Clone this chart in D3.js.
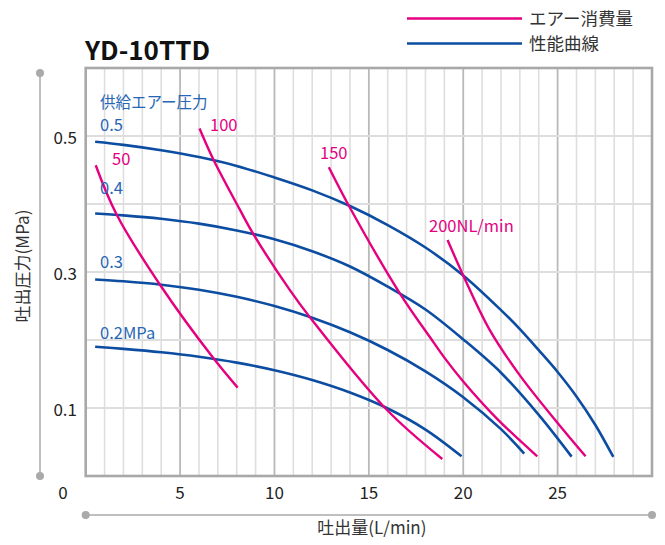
<!DOCTYPE html>
<html><head><meta charset="utf-8">
<script src="https://cdn.jsdelivr.net/npm/d3@7"></script>
<style>
body{margin:0;background:#fff;}
text{font-family:"Noto Sans CJK JP","Noto Sans",sans-serif;}
</style></head>
<body>
<svg id="c" width="665" height="545"></svg>
<script>
// ---- data ----
const xTicks = [5, 10, 15, 20, 25];
const yTicks = [0.1, 0.3, 0.5];
const pressureLevels = ["0.5", "0.4", "0.3", "0.2MPa"];
const airLevels = ["50", "100", "150", "200NL/min"];
// performance curves (flow L/min, discharge pressure MPa)
const perf05 = [[0.5,0.4915],[2,0.487],[4,0.479],[6,0.469],[8,0.456],[10,0.439],[12,0.420],[14,0.397],[16,0.369],[18,0.336],[20,0.295],[22,0.244],[23,0.216],[24,0.185],[25,0.153],[26,0.117],[27,0.075],[27.95,0.028]];
const perf04 = [[0.5,0.386],[2,0.3833],[4,0.3783],[6,0.3711],[8,0.3611],[10,0.3481],[12,0.3305],[14,0.3081],[16,0.2785],[18,0.2449],[20,0.2009],[22,0.1519],[24,0.0899],[25.74,0.0285]];
const perf03 = [[0.5,0.289],[2,0.2863],[4,0.2813],[6,0.2739],[8,0.2635],[10,0.2499],[12,0.2327],[14,0.2113],[16,0.1853],[18,0.1539],[20,0.1159],[22,0.0689],[23.23,0.033]];
const perf02 = [[0.5,0.190],[2,0.1869],[4,0.1819],[6,0.1753],[8,0.1667],[10,0.1555],[12,0.1411],[14,0.1227],[16,0.0993],[18,0.0683],[19.91,0.029]];
// air consumption curves
const air50  = [[0.53,0.457],[1.63,0.385],[3.99,0.279],[6.77,0.173],[8.05,0.130]];
const air100 = [[6.03,0.511],[6.77,0.465],[8.16,0.392],[8.9,0.355],[10.8,0.274],[11.86,0.234],[15.91,0.0985],[18.89,0.025]];
const air150 = [[12.88,0.454],[13.97,0.396],[16.7,0.266],[18.24,0.204],[19.03,0.173],[20,0.139],[21.77,0.0848],[23.92,0.029]];
const air200 = [[19.17,0.347],[20,0.295],[21.4,0.215],[23,0.148],[25,0.078],[26.48,0.029]];

const perfCurves = [perf05, perf04, perf03, perf02];
const airCurves = [air50, air100, air150, air200];

// ---- layout ----
const BLUE = "#0c4da2", PINK = "#e4007f", LBLUE = "#2766b4", GRID = "#dedede", DGRID = "#b9b9b9", FRAME = "#a8a8a8";
const svg = d3.select("#c");
const x = d3.scaleLinear([0, 30], [85.7, 652]);
const y = d3.scaleLinear([0, 0.6], [476, 68]);

// grid
const g = svg.append("g");
g.selectAll("line.v").data(d3.range(1, 30)).join("line")
  .attr("x1", d => x(d)).attr("x2", d => x(d)).attr("y1", y(0.6)).attr("y2", y(0))
  .attr("stroke", d => d % 5 === 0 ? DGRID : GRID).attr("stroke-width", d => d % 5 === 0 ? 1.8 : 1.6);
g.selectAll("line.h").data([0.1, 0.2, 0.3, 0.4, 0.5]).join("line")
  .attr("x1", x(0)).attr("x2", x(30)).attr("y1", d => y(d)).attr("y2", d => y(d))
  .attr("stroke", GRID).attr("stroke-width", 2);
// frame
svg.append("rect").attr("x", x(0)).attr("y", y(0.6)).attr("width", x(30) - x(0)).attr("height", y(0) - y(0.6))
  .attr("fill", "none").attr("stroke", FRAME).attr("stroke-width", 2.6);

// y ticks
svg.selectAll("text.yt").data(yTicks).join("text")
  .attr("x", 77).attr("y", d => y(d) + 2).attr("dy", "0.36em").attr("text-anchor", "end")
  .attr("font-size", 17).attr("fill", "#222").text(d => d.toString());
// x ticks
svg.selectAll("text.xt").data(xTicks).join("text")
  .attr("x", d => x(d)).attr("y", 493).attr("dy", "0.36em").attr("text-anchor", "middle")
  .attr("font-size", 17).attr("fill", "#222").text(d => d);
svg.append("text").attr("x", 63).attr("y", 493).attr("dy", "0.36em").attr("text-anchor", "middle")
  .attr("font-size", 17).attr("fill", "#222").text("0");

// axis decorations
const deco = svg.append("g").attr("fill", "#aaa").attr("stroke", "#aaa");
deco.append("line").attr("x1", 40).attr("x2", 40).attr("y1", 73).attr("y2", 476).attr("stroke-width", 1.5);
deco.append("circle").attr("cx", 40).attr("cy", 73).attr("r", 4).attr("stroke", "none");
deco.append("circle").attr("cx", 40).attr("cy", 476).attr("r", 4).attr("stroke", "none");
deco.append("line").attr("x1", x(0)).attr("x2", x(30)).attr("y1", 515).attr("y2", 515).attr("stroke-width", 1.5);
deco.append("circle").attr("cx", x(0)).attr("cy", 515).attr("r", 4).attr("stroke", "none");
deco.append("circle").attr("cx", x(30)).attr("cy", 515).attr("r", 4).attr("stroke", "none");

// axis titles
svg.append("text").attr("x", (x(0) + x(30)) / 2 + 3).attr("y", 528).attr("dy", "0.36em").attr("text-anchor", "middle")
  .attr("font-size", 17).attr("fill", "#333").text("吐出量(L/min)");
svg.append("text").attr("transform", "translate(23,266) rotate(-90)").attr("dy", "0.36em").attr("text-anchor", "middle")
  .attr("font-size", 17).attr("fill", "#333").text("吐出圧力(MPa)");

// title
svg.append("text").attr("x", 85).attr("y", 60).attr("font-size", 26).attr("font-weight", "bold")
  .attr("fill", "#111").attr("font-family", "'Liberation Sans',Arial,sans-serif").text("YD-10TTD");

// legend
const leg = [{c: PINK, t: "エアー消費量", yy: 18.5}, {c: BLUE, t: "性能曲線", yy: 43.5}];
leg.forEach(l => {
  svg.append("line").attr("x1", 407).attr("x2", 522).attr("y1", l.yy).attr("y2", l.yy).attr("stroke", l.c).attr("stroke-width", 2.5);
  svg.append("text").attr("x", 529).attr("y", l.yy).attr("dy", "0.36em").attr("font-size", 17.5).attr("fill", "#333").text(l.t);
});

// curves
const line = d3.line().x(d => x(d[0])).y(d => y(d[1])).curve(d3.curveCatmullRom.alpha(0.5));
svg.append("g").selectAll("path").data(perfCurves).join("path")
  .attr("d", line).attr("fill", "none").attr("stroke", BLUE).attr("stroke-width", 2.6);
svg.append("g").selectAll("path").data(airCurves).join("path")
  .attr("d", line).attr("fill", "none").attr("stroke", PINK).attr("stroke-width", 2.4);

// curve labels
svg.append("text").attr("x", 100).attr("y", 108).attr("font-size", 15.5).attr("fill", LBLUE).text("供給エアー圧力");
const pLabelY = [131, 194, 268, 339];
svg.selectAll("text.pl").data(pressureLevels).join("text")
  .attr("x", 100).attr("y", (d, i) => pLabelY[i]).attr("font-size", 16.5).attr("fill", LBLUE).text(d => d);
const aLabelPos = [[112, 165], [210, 131], [320, 159], [429, 232]];
svg.selectAll("text.al").data(airLevels).join("text")
  .attr("x", (d, i) => aLabelPos[i][0]).attr("y", (d, i) => aLabelPos[i][1]).attr("font-size", 16.5).attr("fill", PINK).text(d => d);
</script>
</body></html>
